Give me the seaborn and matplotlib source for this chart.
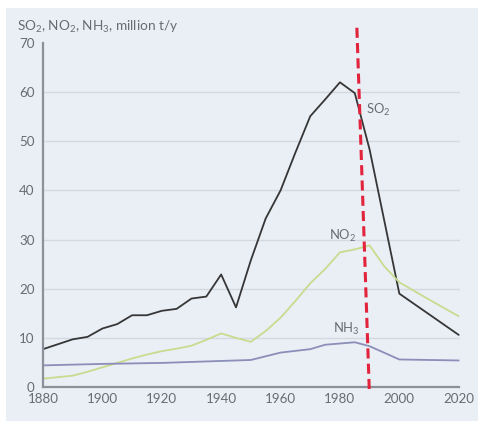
import matplotlib
matplotlib.use("Agg")
import matplotlib.pyplot as plt
import seaborn as sns
import pandas as pd
from matplotlib.patches import Rectangle
from matplotlib.ticker import MultipleLocator

# ---- data ----
so2_years = [1880, 1885, 1890, 1895, 1900, 1905, 1910, 1915, 1920, 1925, 1930, 1935,
             1940, 1945, 1950, 1955, 1960, 1965, 1970, 1975, 1980, 1985, 1990, 2000, 2010, 2020]
so2 = [7.7, 8.7, 9.7, 10.2, 11.9, 12.8, 14.6, 14.6, 15.5, 15.9, 18.0, 18.4,
       22.9, 16.2, 25.8, 34.3, 40.0, 47.7, 55.1, 58.5, 62.0, 59.8, 48.3, 19.0, 14.8, 10.6]

no2_years = [1880, 1885, 1890, 1895, 1900, 1905, 1910, 1915, 1920, 1925, 1930, 1935,
             1940, 1945, 1950, 1955, 1960, 1965, 1970, 1975, 1980, 1985, 1990, 1995, 2000, 2010, 2020]
no2 = [1.7, 2.0, 2.3, 3.1, 4.0, 4.9, 5.8, 6.6, 7.3, 7.8, 8.4, 9.6,
       10.9, 10.0, 9.2, 11.4, 14.1, 17.5, 21.1, 24.0, 27.4, 28.0, 28.8, 24.5, 21.3, 17.8, 14.4]

nh3_years = [1880, 1900, 1920, 1930, 1940, 1950, 1960, 1970, 1975, 1985, 1990, 2000, 2020]
nh3 = [4.4, 4.7, 4.9, 5.1, 5.3, 5.5, 7.0, 7.7, 8.6, 9.1, 8.3, 5.6, 5.4]

series_names = ["SO2", "NO2", "NH3"]
series_labels = ["SO$_2$", "NO$_2$", "NH$_3$"]
label_pos = [(1988.8, 56.4), (1976.3, 30.7), (1977.7, 11.8)]
y_title = "SO$_2$, NO$_2$, NH$_3$, million t/y"
x_ticks = [1880, 1900, 1920, 1940, 1960, 1980, 2000, 2020]
y_ticks = [0, 10, 20, 30, 40, 50, 60, 70]
marker_line_years = [1985.7, 1989.9]
marker_line_vals = [73.1, -1.0]

df = pd.concat([
    pd.DataFrame({"year": so2_years, "value": so2, "series": "SO2"}),
    pd.DataFrame({"year": no2_years, "value": no2, "series": "NO2"}),
    pd.DataFrame({"year": nh3_years, "value": nh3, "series": "NH3"}),
], ignore_index=True)

# ---- style ----
panel = "#eaeef5"
textc = "#676b74"
sns.set_style("white", {"axes.facecolor": panel})
plt.rcParams["font.family"] = ["Lato", "DejaVu Sans"]
plt.rcParams["mathtext.fontset"] = "custom"
plt.rcParams["mathtext.rm"] = "Lato"
plt.rcParams["mathtext.it"] = "Lato"
plt.rcParams["mathtext.bf"] = "Lato"

W, H = 481, 425
fig = plt.figure(figsize=(W / 100, H / 100), dpi=100, facecolor="white")
fig.patches.append(Rectangle((6 / W, (H - 421) / H), (478 - 6) / W, (421 - 8) / H,
                             transform=fig.transFigure, facecolor=panel, edgecolor="none", zorder=-10))

x0, x1 = 43, 460.5
yb, yt = 387, 43
ax = fig.add_axes([x0 / W, (H - yb) / H, (x1 - x0) / W, (yb - yt) / H])
ax.set_facecolor(panel)

palette = {"SO2": "#363636", "NO2": "#c9db8e", "NH3": "#8b8eb8"}
sns.lineplot(data=df, x="year", y="value", hue="series", palette=palette,
             hue_order=series_names, linewidth=1.3, legend=False, ax=ax, sort=True)

ax.set_xlim(1880, 2020.6)
ax.set_ylim(0, 70)
ax.set_xticks(x_ticks)
ax.set_xticklabels([str(t) for t in x_ticks])
ax.xaxis.set_minor_locator(MultipleLocator(10))
ax.set_yticks(y_ticks)
ax.set_xlabel("")
ax.set_ylabel("")

for s in ["top", "right"]:
    ax.spines[s].set_visible(False)
for s in ["left", "bottom"]:
    ax.spines[s].set_color("#8c909a")
    ax.spines[s].set_linewidth(1.6)
ax.spines["bottom"].set_bounds(1880, 2020)

ax.tick_params(axis="x", which="both", direction="in", length=4, width=1.2,
               color="#8c909a", labelsize=9.6, labelcolor=textc, pad=4.5)
ax.tick_params(axis="y", which="major", direction="out", length=3, width=1.0,
               color="#8c909a", labelsize=9.6, labelcolor=textc, pad=3)

# horizontal grid lines 10..60
for v in y_ticks[1:-1]:
    ax.axhline(v, color="#d4d8e0", linewidth=1.0, zorder=0.5)

# series labels
for lab, (lx, ly) in zip(series_labels, label_pos):
    ax.text(lx, ly, lab, fontsize=9.4, color=textc, ha="left", va="center")

# red dashed marker line
ax.plot(marker_line_years, marker_line_vals, color="#e2233c", linewidth=2.2,
        dashes=(3.3, 1.7), clip_on=False, zorder=5)

fig.text(17 / W, (H - 27) / H, y_title, fontsize=9.8, color=textc, ha="left", va="center")

fig.savefig("out.png", dpi=100, facecolor="white")
